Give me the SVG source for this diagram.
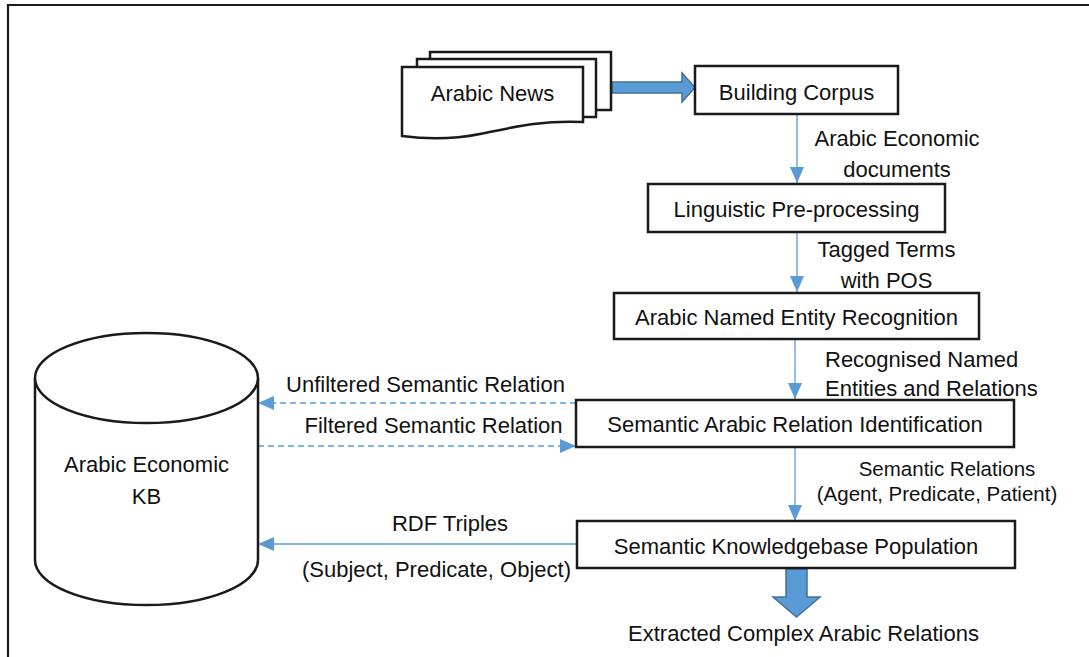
<svg xmlns="http://www.w3.org/2000/svg" width="1089" height="657" viewBox="0 0 1089 657">
  <style>
    .box { fill: #ffffff; stroke: #1a1a1a; stroke-width: 2.5; }
    .shape { fill: #ffffff; stroke: #1a1a1a; stroke-width: 2.5; }
    .lbl { font-family: "Liberation Sans", Arial, sans-serif; font-size: 22px; fill: #111111; text-anchor: middle; }
    .lft { text-anchor: start; }
    .sm { font-size: 20.5px; }
    .conn { fill: none; stroke: #5B9BD5; stroke-width: 1.3; }
    .dash { stroke-dasharray: 6 4; }
    .block { fill: #5B9BD5; stroke: #41719C; stroke-width: 1.5; }
  </style>
  <defs>
    <marker id="arrow" viewBox="0 0 16 14" refX="16" refY="7" markerWidth="16" markerHeight="14" markerUnits="userSpaceOnUse" orient="auto">
      <path d="M0,0 L16,7 L0,14 Z" fill="#5B9BD5"/>
    </marker>
  </defs>

  <rect width="1089" height="657" fill="#ffffff"/>
  <!-- outer frame -->
  <path d="M8,657 V5 H1089" fill="none" stroke="#1a1a1a" stroke-width="2.2"/>

  <!-- connectors -->
  <g id="connectors">
    <path class="block" d="M612,82 H682 V73 L695,87.5 L682,102 V93 H612 Z"/>
    <line class="conn" x1="797" y1="115" x2="797" y2="183" marker-end="url(#arrow)"/>
    <line class="conn" x1="797" y1="233" x2="797" y2="292" marker-end="url(#arrow)"/>
    <line class="conn" x1="795" y1="340" x2="795" y2="399" marker-end="url(#arrow)"/>
    <line class="conn" x1="795" y1="448" x2="795" y2="521" marker-end="url(#arrow)"/>
    <line class="conn dash" x1="576" y1="403" x2="258" y2="403" marker-end="url(#arrow)"/>
    <line class="conn dash" x1="258" y1="446" x2="576" y2="446" marker-end="url(#arrow)"/>
    <line class="conn" x1="577" y1="544" x2="258" y2="544" marker-end="url(#arrow)"/>
    <path class="block" d="M786,569 H807 V597 H820 L796.5,617 L773,597 H786 Z"/>
    <text class="lbl" x="897" y="146">Arabic Economic</text>
    <text class="lbl" x="897" y="177">documents</text>
    <text class="lbl" x="886.5" y="257">Tagged Terms</text>
    <text class="lbl" x="886.5" y="288">with POS</text>
    <text class="lbl lft" x="825" y="367">Recognised Named</text>
    <text class="lbl lft" x="825" y="396">Entities and Relations</text>
    <text class="lbl sm" x="947" y="476">Semantic Relations</text>
    <text class="lbl sm" x="937" y="501">(Agent, Predicate, Patient)</text>
    <text class="lbl" x="425.5" y="392">Unfiltered Semantic Relation</text>
    <text class="lbl" x="433.5" y="433">Filtered Semantic Relation</text>
    <text class="lbl" x="450" y="531">RDF Triples</text>
    <text class="lbl" x="436.5" y="577">(Subject, Predicate, Object)</text>
    <text class="lbl" x="803.5" y="641">Extracted Complex Arabic Relations</text>
  </g>

  <!-- stacked news documents -->
  <g id="arabic-news">
    <rect class="shape" x="430" y="52" width="181" height="58"/>
    <rect class="shape" x="417" y="59" width="179" height="58"/>
    <path class="shape" d="M402,67 H583 V122 C540,120 510,128 480,134 C450,140 425,139 402,136 Z"/>
    <text class="lbl" x="492.5" y="101">Arabic News</text>
  </g>

  <g id="building-corpus">
    <rect class="box" x="695" y="66" width="203" height="48"/>
    <text class="lbl" x="796.5" y="100">Building Corpus</text>
  </g>

  <g id="linguistic-preprocessing">
    <rect class="box" x="648" y="184" width="297" height="48"/>
    <text class="lbl" x="796.5" y="217">Linguistic Pre-processing</text>
  </g>

  <g id="named-entity-recognition">
    <rect class="box" x="614" y="293" width="365" height="46"/>
    <text class="lbl" x="796.5" y="325">Arabic Named Entity Recognition</text>
  </g>

  <g id="relation-identification">
    <rect class="box" x="576" y="400" width="438" height="47"/>
    <text class="lbl" x="795" y="432">Semantic Arabic Relation Identification</text>
  </g>

  <g id="kb-population">
    <rect class="box" x="577" y="521" width="438" height="47"/>
    <text class="lbl" x="796" y="554">Semantic Knowledgebase Population</text>
  </g>

  <g id="economic-kb">
    <path class="shape" d="M35,378 V560 A111.5,45 0 0 0 258,560 V378"/>
    <ellipse class="shape" cx="146.5" cy="378" rx="111.5" ry="45"/>
    <text class="lbl" x="146.5" y="472">Arabic Economic</text>
    <text class="lbl" x="146.5" y="504">KB</text>
  </g>
</svg>
